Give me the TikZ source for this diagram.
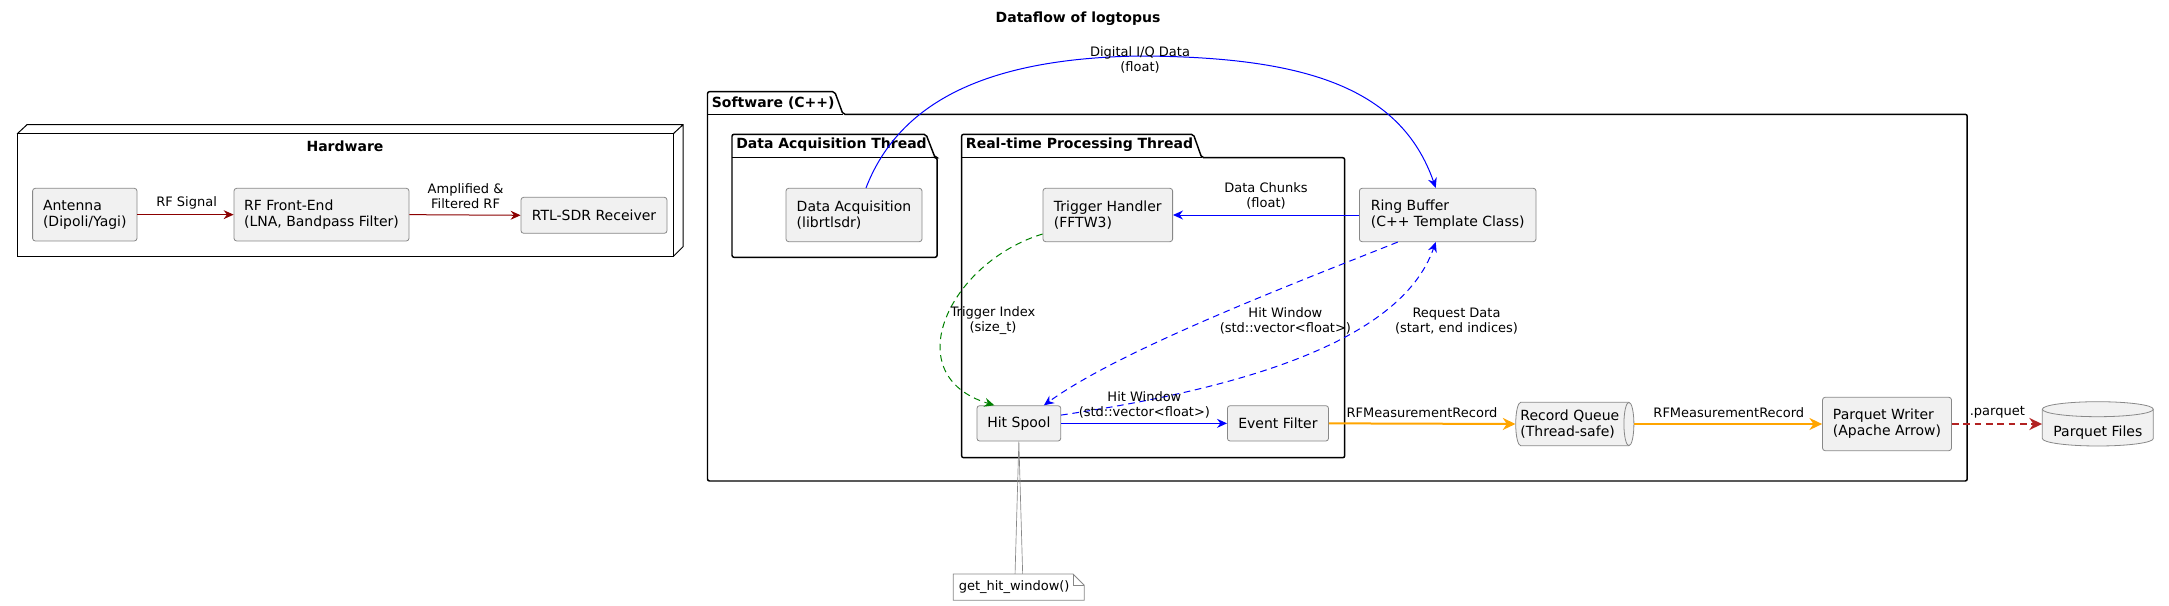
\documentclass[tikz,border=0pt]{standalone}
\usepackage{fontspec}
\setmainfont{DejaVu Sans}
\usepackage{tikz}
\usetikzlibrary{arrows.meta,calc}
\definecolor{boxfill}{HTML}{F1F1F1}
\definecolor{boxline}{HTML}{888888}
\definecolor{hwred}{HTML}{8B0000}
\definecolor{filered}{HTML}{B22222}
\definecolor{qorange}{HTML}{FFA500}
\definecolor{tgreen}{HTML}{008000}
\tikzset{
  box/.style={draw=boxline, fill=boxfill, rounded corners=2pt, line width=0.6pt, inner sep=0pt, align=left, font=\fontsize{10.5}{12.2}\selectfont},
  plainbox/.style={inner sep=0pt, align=left, font=\fontsize{10.5}{12.2}\selectfont},
  lbl/.style={inner sep=0pt, align=center, font=\fontsize{9.75}{11.25}\selectfont},
  ttl/.style={inner sep=0pt, font=\bfseries\fontsize{10.5}{12.6}\selectfont},
  pkg/.style={draw=black, line width=1.1pt, rounded corners=1.5pt},
  pkgtitle/.style={ttl, anchor=west},
  flow/.style={line width=0.75pt, -{Stealth[length=7.5pt, width=6.75pt, inset=2.5pt]}},
  bigflow/.style={line width=1.5pt, -{Stealth[length=9.5pt, width=9pt, inset=3pt]}},
  dashflow/.style={dash pattern=on 5pt off 3.5pt},
}
\begin{document}
\begin{tikzpicture}[x=0.75pt, y=-0.75pt]
\useasboundingbox (0,0) rectangle (2169,606);

\node[ttl] (title) at (1078,18.3) {Dataflow of logtopus};

% Hardware (3d node)
\draw[black, line width=0.75pt] (17,134) rectangle (673,256.7);
\draw[black, line width=0.75pt] (17,134) -- (27,124.7) -- (683,124.7) -- (683,246.7) -- (673,256.7) (683,124.7) -- (673,134);
\node[ttl] (hwtitle) at (345,146) {Hardware};

\node[box, minimum width=78.3pt, minimum height=39.5pt] (ant) at (84.8,214.65) {Antenna\\(Dipoli/Yagi)};
\node[box, minimum width=131.25pt, minimum height=39.5pt] (rf) at (321.5,214.65) {RF Front-End\\(LNA, Bandpass Filter)};
\node[box, minimum width=109.5pt, minimum height=27pt] (rtl) at (594,215.3) {RTL-SDR Receiver};

\draw[flow, hwred] (ant.east) -- (rf.west);
\draw[flow, hwred] (rf.east) -- (rtl.west);
\node[lbl] (lsig) at (186.6,203.3) {RF Signal};
\node[lbl] (lamp) at (465.6,196.2) {Amplified \&\\Filtered RF};

% Software packages
\draw[pkg] (707.5,114.3) -- (707.5,91.7) -- (834.7,91.7) -- (843,114.3) -- (1967.2,114.3) -- (1967.2,481) -- (707.5,481) -- cycle;
\draw[pkg] (707.5,114.3) -- (843,114.3);
\node[pkgtitle] (swtitle) at (711.6,102.7) {Software (C++)};

\draw[pkg] (732,157.7) -- (732,134.3) -- (926,134.3) -- (935.1,157.7) -- (937.1,157.7) -- (937.1,257.3) -- (732,257.3) -- cycle;
\draw[pkg] (732,157.7) -- (935.1,157.7);
\node[pkgtitle] (dattitle) at (736,145) {Data Acquisition Thread};

\draw[pkg] (961.6,157.7) -- (961.6,134.3) -- (1193.4,134.3) -- (1201.7,157.7) -- (1344.7,157.7) -- (1344.7,457.7) -- (961.6,457.7) -- cycle;
\draw[pkg] (961.6,157.7) -- (1201.7,157.7);
\node[pkgtitle] (rttitle) at (965.7,145) {Real-time Processing Thread};

% components
\node[box, minimum width=102pt, minimum height=40.05pt] (da) at (854,215) {Data Acquisition\\(librtlsdr)};
\node[box, minimum width=97.2pt, minimum height=40.05pt] (th) at (1107.8,215) {Trigger Handler\\(FFTW3)};
\node[box, minimum width=132.45pt, minimum height=40.05pt] (rb) at (1447.7,215) {Ring Buffer\\(C++ Template Class)};
\node[box, minimum width=62.8pt, minimum height=26.5pt] (hs) at (1018.85,423.35) {Hit Spool};
\node[box, minimum width=75.8pt, minimum height=26.5pt] (ef) at (1277.95,423.35) {Event Filter};
\node[box, minimum width=96.75pt, minimum height=40.05pt] (pw) at (1887,424) {Parquet Writer\\(Apache Arrow)};

% queue
\draw[draw=boxline, fill=boxfill, line width=0.6pt] (1520.7,402.3) -- (1628.9,402.3) arc (-90:90:5 and 21.7) -- (1520.7,445.7) arc (90:270:5 and 21.7) -- cycle;
\draw[boxline, line width=0.6pt] (1628.9,402.3) arc (270:90:5 and 21.7);
\node[plainbox, minimum width=81.2pt, minimum height=32.55pt] (rq) at (1569.85,424) {Record Queue\\(Thread-safe)};

% database
\draw[draw=boxline, fill=boxfill, line width=0.6pt] (2042.3,409.2) -- (2042.3,438.5) arc (180:0:55.5 and 7.5) -- (2153.3,409.2) arc (0:-180:55.5 and 7.5) -- cycle;
\draw[boxline, line width=0.6pt] (2042.3,409.2) arc (180:0:55.5 and 7.5);
\node[plainbox, minimum width=83.25pt] (pf) at (2097.8,432.3) {Parquet Files};

% note
\draw[draw=boxline, fill=white, line width=0.6pt] (953.3,574) -- (1073,574) -- (1084.3,585.3) -- (1084.3,600.3) -- (953.3,600.3) -- cycle;
\draw[boxline, line width=0.6pt] (1073,574) -- (1073,585.3) -- (1084.3,585.3);
\node[lbl, minimum width=91.3pt, minimum height=19.7pt] (note) at (1014.15,587.15) {get\_hit\_window()};
\draw[boxline, line width=0.5pt] ([xshift=-2.85pt]hs.south |- note.north) -- (hs.south) -- ([xshift=2.85pt]hs.south |- note.north);

% data flow
\draw[flow, blue] ([xshift=9pt]da.north) .. controls (900,100) and (990,58) .. (1141,56)
  .. controls (1300,57) and (1400,85) .. ([xshift=-9pt]rb.north);
\node[lbl] (liq) at (1140,59.8) {Digital I/Q Data\\(float)};

\draw[flow, blue] (rb.west) -- (th.east);
\node[lbl] (lchunk) at (1266,196.3) {Data Chunks\\(float)};

\draw[flow, dashflow, tgreen] ([yshift=-14.25pt]th.west) .. controls (950,262) and (895,375) .. ([xshift=-18.4pt]hs.north);
\node[lbl] (ltrig) at (993,320.8) {Trigger Index\\(size\_t)};

\draw[flow, dashflow, blue] ([xshift=-37.5pt]rb.south) .. controls (1290,285) and (1120,350) .. ([xshift=18.8pt]hs.north);
\node[lbl] (lhw1) at (1285.4,320.8) {Hit Window\\(std::vector<float>)};

\draw[flow, dashflow, blue] ([yshift=6.2pt]hs.east) .. controls (1230,390) and (1400,345) .. ([xshift=-9pt]rb.south);
\node[lbl] (lreq) at (1456.5,320.8) {Request Data\\(start, end indices)};

\draw[flow, blue] (hs.east) -- (ef.west);
\node[lbl] (lhw2) at (1144.4,404.8) {Hit Window\\(std::vector<float>)};

\draw[bigflow, qorange] (ef.east) -- (rq.west);
\node[lbl] (lrec1) at (1422,412.7) {RFMeasurementRecord};
\draw[bigflow, qorange] (1633.9,424) -- (pw.west);
\node[lbl] (lrec2) at (1728.8,412.7) {RFMeasurementRecord};

\draw[bigflow, dashflow, filered] (pw.east) -- (pw.east -| pf.west);
\node[lbl] (lpq) at (1997.3,412.7) {.parquet};
\end{tikzpicture}
\end{document}
